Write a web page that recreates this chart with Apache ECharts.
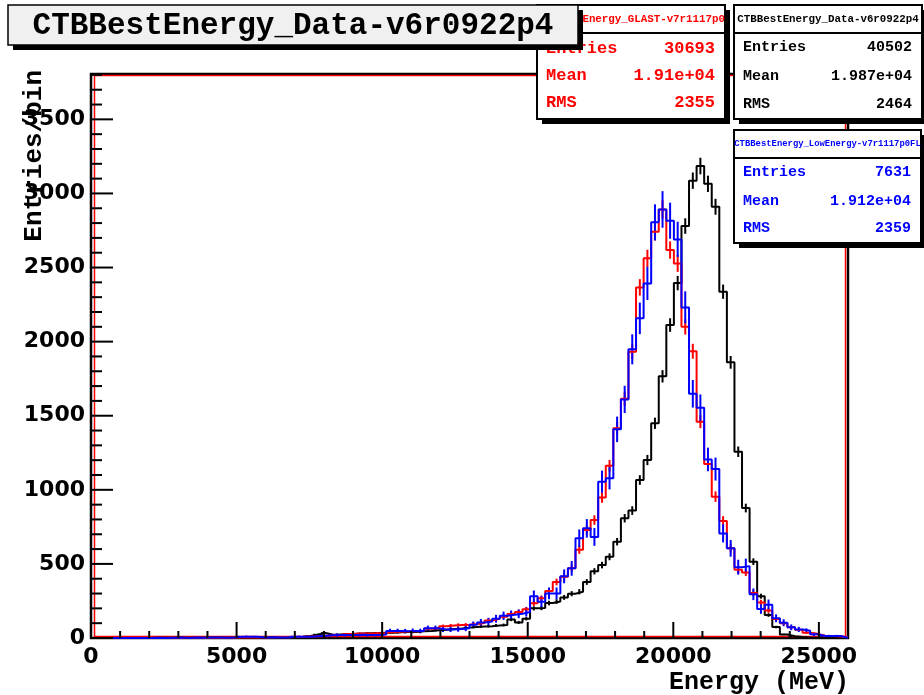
<!DOCTYPE html>
<html>
<head>
<meta charset="utf-8">
<title>CTBBestEnergy</title>
<script src="https://cdn.jsdelivr.net/npm/echarts@6/dist/echarts.min.js"></script>
<style>
  html, body { margin: 0; padding: 0; background: #fff; }
  #chart { width: 924px; height: 695px; }
</style>
</head>
<body>
<div id="chart"></div>
<script>
// Histogram binning: 100 bins of CTBBestEnergy from 0 to 26000 MeV
const histMin = 0;
const histMax = 26000;

// Bin contents, data v6r0922p4 (black)
const dataCounts = [
  0, 0, 0, 0, 0, 0, 0, 0, 1, 1,
  1, 2, 1, 2, 2, 3, 2, 3, 4, 3,
  4, 5, 4, 6, 5, 7, 6, 9, 14, 24,
  34, 22, 24, 26, 28, 30, 32, 33, 35, 36,
  38, 40, 41, 45, 48, 52, 55, 60, 64, 70,
  74, 78, 80, 85, 88, 125, 105, 130, 200, 202,
  236, 246, 274, 299, 312, 378, 450, 492, 548, 650,
  808, 860, 1066, 1201, 1449, 1766, 2112, 2395, 2780, 3086,
  3185, 3065, 2910, 2337, 1860, 1257, 877, 515, 282, 155,
  74, 24, 12, 6, 3, 2, 1, 1, 0, 0
];

// Bin contents, GLAST-v7r1117p0 (red), scaled
const glastCounts = [
  0, 0, 0, 0, 0, 0, 0, 0, 0, 1,
  1, 0, 1, 2, 1, 2, 2, 3, 2, 3,
  3, 4, 5, 4, 6, 5, 7, 8, 10, 12,
  14, 18, 22, 27, 28, 30, 30, 32, 34, 40,
  42, 44, 45, 47, 62, 66, 80, 84, 88, 90,
  95, 102, 118, 130, 144, 162, 176, 194, 234, 268,
  317, 378, 414, 470, 596, 728, 796, 948, 1162, 1415,
  1614, 1932, 2366, 2562, 2742, 2892, 2618, 2528, 2100, 1935,
  1460, 1175, 954, 790, 605, 460, 442, 303, 240, 186,
  128, 100, 72, 55, 36, 28, 16, 14, 10, 6
];

// Bin contents, LowEnergy-v7r1117p0FL (blue), scaled
const lowEnergyCounts = [
  0, 0, 0, 0, 0, 0, 0, 0, 2, 0,
  2, 3, 0, 3, 2, 3, 3, 2, 3, 9,
  9, 8, 3, 5, 4, 3, 9, 9, 8, 12,
  15, 18, 20, 20, 20, 22, 20, 21, 24, 47,
  47, 46, 48, 47, 65, 65, 58, 58, 60, 65,
  90, 105, 112, 130, 150, 157, 163, 175, 282, 245,
  301, 301, 416, 470, 673, 740, 682, 1055, 1078, 1408,
  1610, 1948, 2157, 2393, 2805, 2892, 2816, 2690, 2231, 1648,
  1553, 1205, 1140, 706, 605, 478, 485, 295, 195, 225,
  133, 103, 72, 58, 49, 25, 13, 13, 13, 2
];

// Statistics boxes
const histTitles = ['CTBBestEnergy_Data-v6r0922p4', 'CTBBestEnergy_GLAST-v7r1117p0', 'CTBBestEnergy_LowEnergy-v7r1117p0FL'];
const histEntries = [40502, 30693, 7631];
const histMeans = ['1.987e+04', '1.91e+04', '1.912e+04'];
const histRms = [2464, 2355, 2359];

// Axis ticks and labels
const xMajorTicks = [0, 5000, 10000, 15000, 20000, 25000];
const xMinorTicks = [1000, 2000, 3000, 4000, 6000, 7000, 8000, 9000, 11000, 12000, 13000, 14000,
  16000, 17000, 18000, 19000, 21000, 22000, 23000, 24000];
const yMajorTicks = [0, 500, 1000, 1500, 2000, 2500, 3000, 3500];
const yMinorTicks = [100, 200, 300, 400, 600, 700, 800, 900, 1100, 1200, 1300, 1400, 1600, 1700, 1800, 1900,
  2100, 2200, 2300, 2400, 2600, 2700, 2800, 2900, 3100, 3200, 3300, 3400, 3600, 3700, 3800];
const yAxisMax = 3806;

const BLACK = '#000000', RED = '#ff0000', BLUE = '#0000ff';
const MONO = '"Liberation Mono", "DejaVu Sans Mono", monospace';
const SANS = '"DejaVu Sans", sans-serif';

const binWidth = (histMax - histMin) / dataCounts.length;

// Step outline: one point per lower bin edge plus the upper edge of the last bin
function stepPoints(counts) {
  const pts = counts.map((c, i) => [histMin + i * binWidth, c]);
  pts.push([histMax, counts[counts.length - 1]]);
  return pts;
}

// Error bars at bin centres: sqrt(content * weight), weight = integral / entries
function errorPoints(counts, entries) {
  const sum = counts.reduce((a, b) => a + b, 0);
  const w = sum / entries;
  const out = [];
  counts.forEach((c, i) => {
    if (c > 0) out.push([histMin + (i + 0.5) * binWidth, c, Math.sqrt(c * w)]);
  });
  return out;
}

function stepSeries(name, counts, color) {
  return {
    name, type: 'line', step: 'end', data: stepPoints(counts),
    showSymbol: false, symbol: 'none', silent: true,
    lineStyle: { color, width: 2 }, z: 3
  };
}

function errorSeries(name, counts, entries, color) {
  return {
    name: name + ' errors', type: 'custom', data: errorPoints(counts, entries), silent: true, z: 3,
    renderItem(params, api) {
      const x = api.value(0), v = api.value(1), e = api.value(2);
      const p1 = api.coord([x, Math.max(0, v - e)]);
      const p2 = api.coord([x, v + e]);
      return { type: 'line', shape: { x1: p1[0], y1: p1[1], x2: p2[0], y2: p2[1] },
        style: { stroke: color, lineWidth: 2 } };
    }
  };
}

// Inward ticks on the bottom and left axes
const tickSeries = {
  type: 'custom', data: [[0, 0]], silent: true, z: 4,
  renderItem(params, api) {
    const children = [];
    const xTick = (v, len) => {
      const p = api.coord([v, 0]);
      children.push({ type: 'line', shape: { x1: p[0], y1: p[1], x2: p[0], y2: p[1] - len },
        style: { stroke: '#000', lineWidth: 2 } });
    };
    const yTick = (v, len) => {
      const p = api.coord([histMin, v]);
      children.push({ type: 'line', shape: { x1: p[0], y1: p[1], x2: p[0] + len, y2: p[1] },
        style: { stroke: '#000', lineWidth: 2 } });
    };
    xMajorTicks.forEach(v => xTick(v, 16));
    xMinorTicks.forEach(v => xTick(v, 7));
    yMajorTicks.forEach(v => yTick(v, 22));
    yMinorTicks.forEach(v => yTick(v, 11));
    return { type: 'group', children };
  }
};

// Stat box: shadow, white panel, header line, title and three rows
function statBox(x, y, w, h, headH, title, rows, color, titleSize, rowSize, rowYs, z) {
  const els = [
    { type: 'rect', shape: { x: x + 5, y: y + 5, width: w, height: h }, style: { fill: '#000' }, z },
    { type: 'rect', shape: { x, y, width: w, height: h }, style: { fill: '#fff', stroke: '#000', lineWidth: 2 }, z: z + 1 },
    { type: 'line', shape: { x1: x, y1: y + headH, x2: x + w, y2: y + headH }, style: { stroke: '#000', lineWidth: 2 }, z: z + 2 },
    { type: 'text', x: x + w / 2, y: y + headH / 2, z: z + 2,
      style: { text: title, fill: color, font: 'bold ' + titleSize + 'px ' + MONO, align: 'center', verticalAlign: 'middle' } }
  ];
  rows.forEach((r, i) => {
    els.push({ type: 'text', x: x + 9, y: rowYs[i], z: z + 2,
      style: { text: r[0], fill: color, font: 'bold ' + rowSize + 'px ' + MONO, align: 'left', verticalAlign: 'middle' } });
    els.push({ type: 'text', x: x + w - 10, y: rowYs[i], z: z + 2,
      style: { text: String(r[1]), fill: color, font: 'bold ' + rowSize + 'px ' + MONO, align: 'right', verticalAlign: 'middle' } });
  });
  return els;
}

const chart = echarts.init(document.getElementById('chart'), null, { renderer: 'canvas' });

const graphics = [
  // red frame line inside the black frame
  { type: 'rect', shape: { x: 94.5, y: 75.5, width: 751, height: 561 },
    style: { fill: 'none', stroke: RED, lineWidth: 1.5 }, z: 1, silent: true },
  ...statBox(537, 5, 188, 114, 28, histTitles[1],
    [['Entries', histEntries[1]], ['Mean', histMeans[1]], ['RMS', histRms[1]]],
    RED, 10.8, 17, [49, 76, 103], 100),
  ...statBox(734, 5, 188, 114, 28, histTitles[0],
    [['Entries', histEntries[0]], ['Mean', histMeans[0]], ['RMS', histRms[0]]],
    BLACK, 10.8, 15, [47, 76, 104], 100),
  ...statBox(734, 130, 187, 113, 28, histTitles[2],
    [['Entries', histEntries[2]], ['Mean', histMeans[2]], ['RMS', histRms[2]]],
    BLUE, 8.9, 15, [172, 201, 228], 100),
  // title pave
  { type: 'rect', shape: { x: 13, y: 10, width: 570, height: 40 }, style: { fill: '#000' }, z: 110 },
  { type: 'rect', shape: { x: 8, y: 5, width: 570, height: 40 },
    style: { fill: '#f0f0f0', stroke: '#000', lineWidth: 1.5 }, z: 111 },
  { type: 'text', x: 293, y: 26, z: 112,
    style: { text: histTitles[0], fill: '#000', font: 'bold 31px ' + MONO, align: 'center', verticalAlign: 'middle' } },
  // axis titles
  { type: 'text', x: 849, y: 683, z: 20,
    style: { text: 'Energy (MeV)', fill: '#000', font: 'bold 25px ' + MONO, align: 'right', verticalAlign: 'middle' } },
  { type: 'text', x: 34, y: 70, rotation: Math.PI / 2, z: 20,
    style: { text: 'Entries/bin', fill: '#000', font: 'bold 26px ' + MONO, align: 'right', verticalAlign: 'middle' } }
];

chart.setOption({
  animation: false,
  backgroundColor: '#ffffff',
  grid: { left: 91, right: 76, top: 74, bottom: 57, show: true, borderColor: '#000', borderWidth: 2.5, backgroundColor: 'transparent' },
  xAxis: {
    type: 'value', min: histMin, max: histMax, interval: 5000,
    axisLine: { show: false }, axisTick: { show: false }, splitLine: { show: false },
    axisLabel: {
      margin: 8, color: '#000', fontFamily: SANS, fontWeight: 'bold', fontSize: 22,
      formatter: v => (v % 5000 === 0 ? String(v) : '')
    }
  },
  yAxis: {
    type: 'value', min: 0, max: yAxisMax, interval: 500,
    axisLine: { show: false }, axisTick: { show: false }, splitLine: { show: false },
    axisLabel: {
      margin: 6, color: '#000', fontFamily: SANS, fontWeight: 'bold', fontSize: 22,
      formatter: v => (v % 500 === 0 ? String(v) : '')
    }
  },
  series: [
    stepSeries(histTitles[0], dataCounts, BLACK),
    errorSeries(histTitles[0], dataCounts, histEntries[0], BLACK),
    stepSeries(histTitles[1], glastCounts, RED),
    errorSeries(histTitles[1], glastCounts, histEntries[1], RED),
    stepSeries(histTitles[2], lowEnergyCounts, BLUE),
    errorSeries(histTitles[2], lowEnergyCounts, histEntries[2], BLUE),
    tickSeries
  ],
  graphic: { elements: graphics }
});
</script>
</body>
</html>
